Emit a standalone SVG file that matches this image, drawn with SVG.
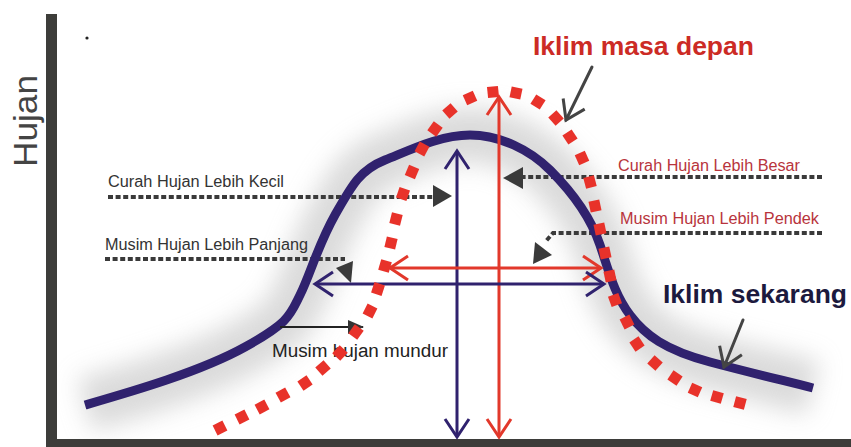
<svg xmlns="http://www.w3.org/2000/svg" xmlns:xlink="http://www.w3.org/1999/xlink" width="851" height="447" viewBox="0 0 851 447">
<style>
.lbl{font-family:"Liberation Sans",Arial,sans-serif;}
.dash{fill:none;stroke:#3a3a3a;stroke-width:4;stroke-dasharray:5 2.6;}
.ptr{fill:none;stroke:#444;stroke-width:3;stroke-linecap:round;}
.blueA{fill:none;stroke:#30226e;stroke-width:3;}
.redA{fill:none;stroke:#e2382b;stroke-width:3;}
.tri{fill:#3a3a3a;}
</style>
<defs>
<filter id="blur" x="-20%" y="-20%" width="140%" height="140%"><feGaussianBlur stdDeviation="12"/></filter>
<rect id="sq" x="-5.5" y="-5.5" width="11" height="11" fill="#e8322a"/>
<marker id="chevB" viewBox="0 0 20 26" refX="19" refY="13" markerWidth="20" markerHeight="26" markerUnits="userSpaceOnUse" orient="auto-start-reverse" overflow="visible"><path d="M1,1 L19,13 L1,25" fill="none" stroke="#30226e" stroke-width="3"/></marker>
<marker id="chevR" viewBox="0 0 20 26" refX="19" refY="13" markerWidth="20" markerHeight="26" markerUnits="userSpaceOnUse" orient="auto-start-reverse" overflow="visible"><path d="M1,1 L19,13 L1,25" fill="none" stroke="#e2382b" stroke-width="3"/></marker>
<marker id="chevG" viewBox="0 0 20 26" refX="19" refY="13" markerWidth="20" markerHeight="26" markerUnits="userSpaceOnUse" orient="auto" overflow="visible"><path d="M1,1 L19,13 L1,25" fill="none" stroke="#444" stroke-width="3"/></marker>
<marker id="triK" viewBox="0 0 16 14" refX="15" refY="7" markerWidth="16" markerHeight="14" markerUnits="userSpaceOnUse" orient="auto" overflow="visible"><path d="M0,0 L16,7 L0,14 Z" fill="#333"/></marker>
</defs>
<rect width="851" height="447" fill="#ffffff"/>
<g id="shading" filter="url(#blur)" opacity="0.55">
<path d="M85,405 C130,392 200,372 245,347 S290,315 300,295 S318,245 335,215 S360,170 385,160 S440,135 470,135 S530,150 550,170 S590,215 600,245 S615,295 630,315 S665,350 710,362 S790,382 813,388" fill="none" stroke="#bdbdbd" stroke-width="55"/>
</g>
<g id="axes">
<rect x="46" y="14" width="11" height="433" fill="#3d3d3a"/>
<rect x="46" y="439" width="805" height="8" fill="#3d3d3a"/>
<circle cx="87" cy="38" r="1.6" fill="#222"/>
<text class="lbl" transform="translate(37,167) rotate(-90)" font-size="34" fill="#444" textLength="92" lengthAdjust="spacingAndGlyphs">Hujan</text>
</g>
<g id="connectors">
<path class="dash" d="M108,197 H433"/>
<polygon class="tri" points="433,185 452,196 433,207"/>
<path class="dash" d="M105,259 H345"/>
<polygon class="tri" points="336,268 353,261 351,283"/>
<path class="dash" d="M822,177 H523"/>
<polygon class="tri" points="523,167 503,178 523,189"/>
<path class="dash" d="M822,233 H553 L546,241"/>
<polygon class="tri" points="535,242 552,255 533,264"/>
</g>
<g id="curve-now">
<path d="M85,405 C130,392 200,372 245,347 S290,315 300,295 S318,245 335,215 S360,170 385,160 S440,135 470,135 S530,150 550,170 S590,215 600,245 S615,295 630,315 S665,350 710,362 S790,382 813,388" fill="none" stroke="#30226e" stroke-width="9" stroke-linejoin="round"/>
</g>
<g id="arrows">
<line class="blueA" x1="457" y1="151" x2="457" y2="437" marker-start="url(#chevB)" marker-end="url(#chevB)"/>
<line class="redA" x1="499" y1="97" x2="499" y2="437" marker-start="url(#chevR)" marker-end="url(#chevR)"/>
<line class="redA" x1="390" y1="268" x2="601" y2="268" marker-start="url(#chevR)" marker-end="url(#chevR)"/>
<line class="blueA" x1="315" y1="284" x2="604" y2="284" marker-start="url(#chevB)" marker-end="url(#chevB)"/>
<line x1="280" y1="327" x2="363" y2="327" stroke="#222" stroke-width="1.8" marker-end="url(#triK)"/>
<line class="ptr" x1="592" y1="67" x2="566" y2="120" marker-end="url(#chevG)"/>
<line class="ptr" x1="743" y1="320" x2="724" y2="367" marker-end="url(#chevG)"/>
</g>
<g id="labels">
<text class="lbl" x="108" y="187" font-size="16" fill="#333" textLength="176" lengthAdjust="spacingAndGlyphs">Curah Hujan Lebih Kecil</text>
<text class="lbl" x="105" y="250" font-size="16" fill="#333" textLength="203" lengthAdjust="spacingAndGlyphs">Musim Hujan Lebih Panjang</text>
<text class="lbl" x="618" y="171" font-size="16" fill="#b8343c" textLength="182" lengthAdjust="spacingAndGlyphs">Curah Hujan Lebih Besar</text>
<text class="lbl" x="620" y="224" font-size="16" fill="#b8343c" textLength="199" lengthAdjust="spacingAndGlyphs">Musim Hujan Lebih Pendek</text>
<text class="lbl" x="272" y="357" font-size="18" fill="#222" textLength="176" lengthAdjust="spacingAndGlyphs">Musim hujan mundur</text>
<text class="lbl" x="533" y="55" font-size="26" font-weight="bold" fill="#cc2b25" textLength="221" lengthAdjust="spacingAndGlyphs">Iklim masa depan</text>
<text class="lbl" x="663" y="303" font-size="26" font-weight="bold" fill="#1c1a3e" textLength="184" lengthAdjust="spacingAndGlyphs">Iklim sekarang</text>
</g>
<g id="curve-future">
<use xlink:href="#sq" transform="translate(220,428) rotate(-27)"/>
<use xlink:href="#sq" transform="translate(242,417) rotate(-27)"/>
<use xlink:href="#sq" transform="translate(262,407) rotate(-28)"/>
<use xlink:href="#sq" transform="translate(283,395) rotate(-29)"/>
<use xlink:href="#sq" transform="translate(305,383) rotate(-34)"/>
<use xlink:href="#sq" transform="translate(323,368) rotate(-41)"/>
<use xlink:href="#sq" transform="translate(340,353) rotate(-47)"/>
<use xlink:href="#sq" transform="translate(356,332) rotate(-54)"/>
<use xlink:href="#sq" transform="translate(370,311) rotate(-63)"/>
<use xlink:href="#sq" transform="translate(378,289) rotate(-72)"/>
<use xlink:href="#sq" transform="translate(385,266) rotate(-74)"/>
<use xlink:href="#sq" transform="translate(391,243) rotate(-77)"/>
<use xlink:href="#sq" transform="translate(396,219) rotate(-76)"/>
<use xlink:href="#sq" transform="translate(403,194) rotate(-71)"/>
<use xlink:href="#sq" transform="translate(412,172) rotate(-67)"/>
<use xlink:href="#sq" transform="translate(422,149) rotate(-62)"/>
<use xlink:href="#sq" transform="translate(435,129) rotate(-54)"/>
<use xlink:href="#sq" transform="translate(450,111) rotate(-41)"/>
<use xlink:href="#sq" transform="translate(470,98) rotate(-24)"/>
<use xlink:href="#sq" transform="translate(493,92) rotate(-6)"/>
<use xlink:href="#sq" transform="translate(516,93) rotate(12)"/>
<use xlink:href="#sq" transform="translate(538,102) rotate(32)"/>
<use xlink:href="#sq" transform="translate(556,118) rotate(48)"/>
<use xlink:href="#sq" transform="translate(570,137) rotate(57)"/>
<use xlink:href="#sq" transform="translate(582,158) rotate(66)"/>
<use xlink:href="#sq" transform="translate(590,182) rotate(75)"/>
<use xlink:href="#sq" transform="translate(595,206) rotate(78)"/>
<use xlink:href="#sq" transform="translate(600,229) rotate(78)"/>
<use xlink:href="#sq" transform="translate(605,253) rotate(78)"/>
<use xlink:href="#sq" transform="translate(610,276) rotate(78)"/>
<use xlink:href="#sq" transform="translate(615,300) rotate(70)"/>
<use xlink:href="#sq" transform="translate(627,322) rotate(63)"/>
<use xlink:href="#sq" transform="translate(637,344) rotate(56)"/>
<use xlink:href="#sq" transform="translate(655,363) rotate(42)"/>
<use xlink:href="#sq" transform="translate(675,378) rotate(34)"/>
<use xlink:href="#sq" transform="translate(695,390) rotate(24)"/>
<use xlink:href="#sq" transform="translate(717,397) rotate(16)"/>
<use xlink:href="#sq" transform="translate(740,403) rotate(15)"/>
</g>
</svg>
